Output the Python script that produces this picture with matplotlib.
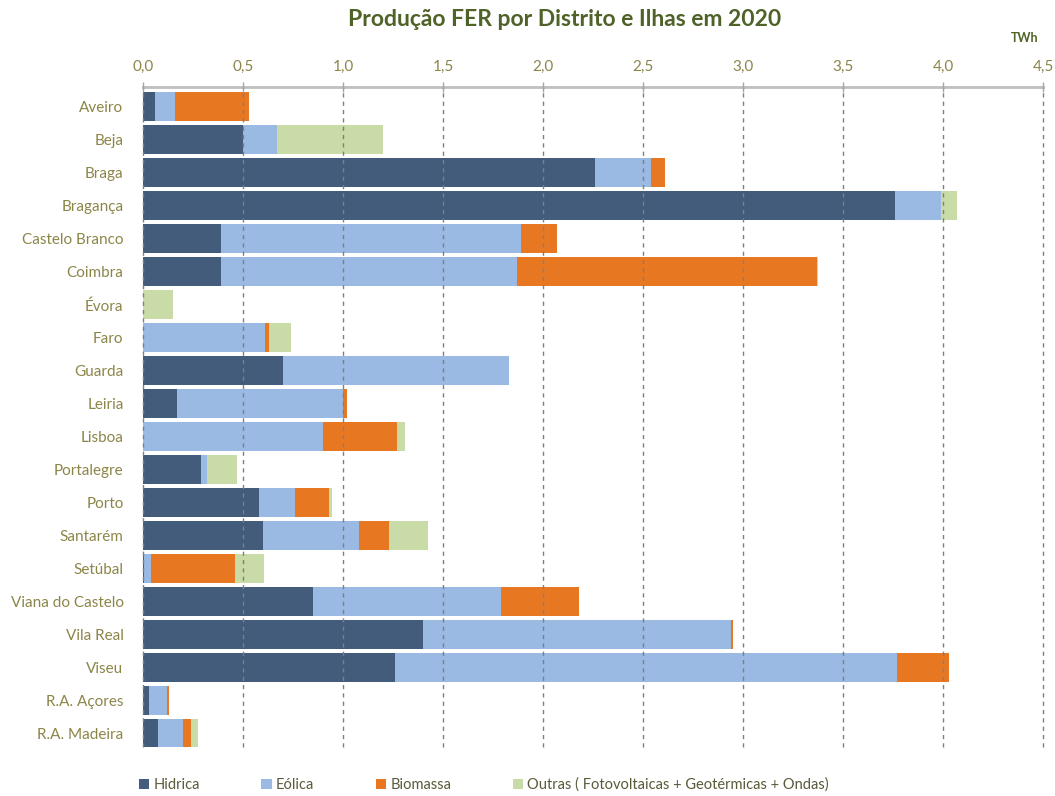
import matplotlib
matplotlib.use("Agg")
import matplotlib.pyplot as plt
import numpy as np

distritos = ["Aveiro", "Beja", "Braga", "Bragança", "Castelo Branco", "Coimbra",
             "Évora", "Faro", "Guarda", "Leiria", "Lisboa", "Portalegre", "Porto",
             "Santarém", "Setúbal", "Viana do Castelo", "Vila Real", "Viseu",
             "R.A. Açores", "R.A. Madeira"]

hidrica = [0.06, 0.50, 2.26, 3.76, 0.39, 0.39, 0.0, 0.0, 0.70, 0.17, 0.0, 0.29, 0.58,
           0.60, 0.005, 0.85, 1.40, 1.26, 0.03, 0.075]
eolica = [0.10, 0.17, 0.28, 0.23, 1.50, 1.48, 0.0, 0.61, 1.13, 0.83, 0.90, 0.03, 0.18,
          0.48, 0.035, 0.94, 1.54, 2.51, 0.09, 0.125]
biomassa = [0.37, 0.0, 0.07, 0.0, 0.18, 1.50, 0.0, 0.02, 0.0, 0.02, 0.37, 0.0, 0.17,
            0.15, 0.42, 0.39, 0.01, 0.26, 0.012, 0.04]
outras = [0.0, 0.53, 0.0, 0.08, 0.0, 0.005, 0.15, 0.11, 0.0, 0.0, 0.04, 0.15, 0.015,
          0.195, 0.145, 0.0, 0.0, 0.0, 0.0, 0.035]

series = [("Hidrica", hidrica, "#445C7C"),
          ("Eólica", eolica, "#9AB9E3"),
          ("Biomassa", biomassa, "#E87722"),
          ("Outras ( Fotovoltaicas + Geotérmicas + Ondas)", outras, "#C9DBA6")]

plt.rcParams["font.family"] = ["Lato", "DejaVu Sans"]
label_col = "#8C8548"
title_col = "#4F6228"

fig = plt.figure(figsize=(10.55, 7.96), dpi=100)
ax = fig.add_axes([143 / 1055, 1 - 747 / 796, 900 / 1055, 660 / 796])

y = np.arange(len(distritos))
left = np.zeros(len(distritos))
for name, vals, col in series:
    ax.barh(y, vals, left=left, height=0.87, color=col, label=name, zorder=1)
    left += np.array(vals)

ax.set_xlim(0, 4.5)
ax.set_ylim(19.4, -0.6)
ticks = np.arange(0, 4.51, 0.5)
ax.set_xticks(ticks)
ax.set_xticklabels([f"{v:.1f}".replace(".", ",") for v in ticks])
ax.xaxis.tick_top()
ax.tick_params(axis="x", direction="inout", length=7, color="#A6A6A6", width=1,
               labelsize=11, labelcolor=label_col, pad=6)
ax.set_yticks(y)
ax.set_yticklabels(distritos)
ax.tick_params(axis="y", length=0, labelsize=11, labelcolor=label_col, pad=14)

for gl in ax.xaxis.get_gridlines():
    gl.set_clip_on(False)
ax.grid(axis="x", linestyle=(0, (3, 3)), color="#7F7F7F", linewidth=1, zorder=2)
ax.set_axisbelow(False)
for s in ["right", "bottom", "left"]:
    ax.spines[s].set_visible(False)
ax.spines["top"].set_color("#BFBFBF")
ax.spines["top"].set_linewidth(2)

fig.text(0.535, 1 - 19 / 796, "Produção FER por Distrito e Ilhas em 2020", ha="center",
         va="center", fontsize=16.5, fontweight="bold", color=title_col)
fig.text(1025 / 1055, 1 - 38 / 796, "TWh", ha="center", va="center", fontsize=9,
         fontweight="bold", color=title_col)

fig.legend(loc="center left", bbox_to_anchor=(126 / 1055, 1 - 785 / 796), ncol=4,
           frameon=False, handlelength=0.7, handleheight=0.7, handletextpad=0.3,
           columnspacing=4.2, fontsize=10.5, labelcolor="#5A5A3A")

fig.savefig("out.png", dpi=100)
